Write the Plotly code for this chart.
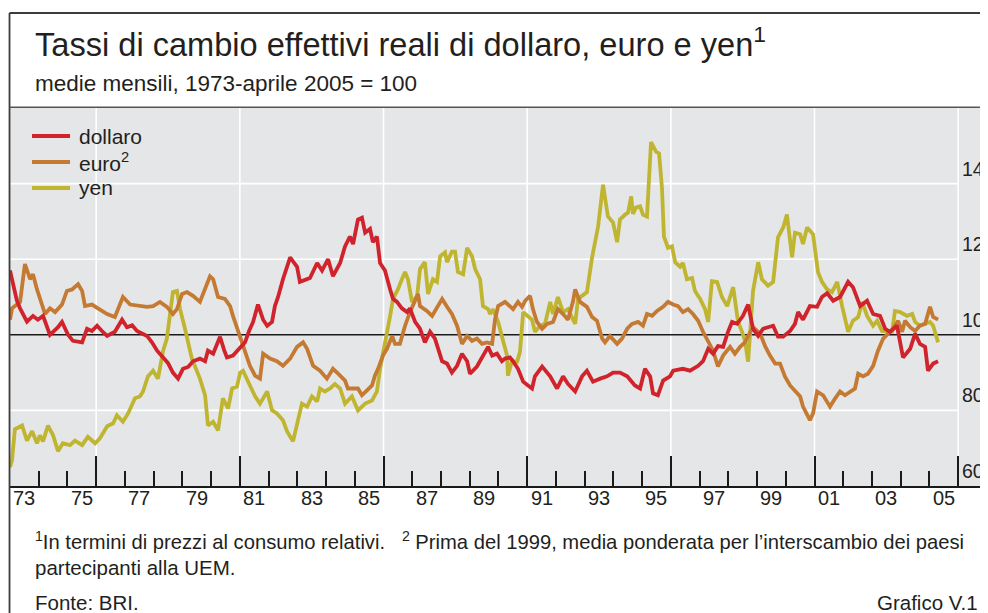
import plotly.graph_objects as go

# ---------------- data (monthly readings, index 1973-Apr 2005 = 100) ----------------
dollar_t = [1973.00,1973.14,1973.24,1973.35,1973.59,1973.80,1973.97,1974.15,1974.39,1974.67,
            1974.81,1975.02,1975.19,1975.51,1975.68,1975.85,1976.03,1976.20,1976.38,1976.65,
            1976.90,1977.07,1977.25,1977.42,1977.59,1977.77,1977.94,1978.12,1978.33,1978.50,
            1978.67,1978.85,1979.02,1979.20,1979.37,1979.61,1979.79,1979.89,1980.07,1980.31,
            1980.45,1980.55,1980.76,1981.01,1981.18,1981.32,1981.46,1981.63,1981.81,1981.95,
            1982.12,1982.22,1982.33,1982.50,1982.75,1982.89,1982.99,1983.09,1983.27,1983.44,
            1983.69,1983.86,1984.07,1984.24,1984.49,1984.66,1984.83,1984.94,1985.11,1985.25,
            1985.36,1985.53,1985.63,1985.77,1985.88,1986.05,1986.23,1986.33,1986.47,1986.64,
            1986.82,1986.92,1987.10,1987.27,1987.44,1987.62,1987.79,1988.04,1988.21,1988.38,
            1988.56,1988.73,1988.91,1989.01,1989.25,1989.43,1989.53,1989.64,1989.78,1989.95,
            1990.12,1990.23,1990.40,1990.51,1990.68,1990.86,1991.03,1991.17,1991.27,1991.52,
            1991.80,1992.04,1992.25,1992.42,1992.67,1992.91,1993.08,1993.29,1993.54,1993.78,
            1993.99,1994.23,1994.48,1994.75,1994.93,1995.10,1995.28,1995.38,1995.55,1995.73,
            1995.97,1996.08,1996.42,1996.67,1996.95,1997.12,1997.30,1997.47,1997.64,1997.82,
            1997.99,1998.13,1998.31,1998.51,1998.69,1998.86,1999.04,1999.21,1999.38,1999.56,
            1999.73,1999.91,2000.15,2000.32,2000.43,2000.60,2000.84,2001.09,2001.26,2001.44,
            2001.65,2001.89,2002.17,2002.34,2002.59,2002.83,2003.04,2003.28,2003.46,2003.63,
            2003.87,2004.08,2004.33,2004.50,2004.67,2004.85,2004.95,2005.13,2005.30]
dollar_v = [117,112,109,107,103.5,105,104,105,100,102,
            103.4,100,98.4,98,101.6,101,102.4,101,99.7,100.8,
            104,102,102.5,101,100.5,99.7,98,95.8,94,92.5,
            90,88.4,91,91.5,93,93.7,93,95.8,95,99.5,
            96,94,94.5,96.8,98,101,103.4,108,104,102.4,
            103.4,107.6,110,114.7,120.5,119,118,114,114.5,115,
            119,117,120,115.5,119,123.4,126,124,130.5,131,
            127,128,124.5,126,119,117,112,109.5,108.7,107,
            106,107,103.4,101.6,98,100.8,99,93,92.4,90,
            91.8,95,93,89.7,91.6,94,95.5,96.8,94.5,95,
            93,93.7,94,93,91,87.6,86.6,85.8,89,91.6,
            89,85.8,89,87,85,89,90.5,87.6,88.4,89,
            90,90,89,86.6,85.8,91,89,84.5,84,87.9,
            89,90.5,91,90.5,91.8,93,96.3,95,97,96.8,
            100.8,103.4,102.9,105,108,101.6,99.7,101.6,102,102.4,
            99.5,99.5,101,102.9,106,104,107.6,107.4,110,111,
            109,110,114,112.6,107.6,109,105.5,105,101.6,100.8,
            102.4,94,96.3,100.3,97.6,96.8,90.5,92.4,93]

euro_t = [1973.00,1973.07,1973.35,1973.52,1973.70,1973.80,1973.94,1974.11,1974.22,1974.39,
          1974.57,1974.81,1974.98,1975.16,1975.37,1975.51,1975.61,1975.85,1976.13,1976.38,
          1976.65,1976.83,1976.93,1977.18,1977.52,1977.77,1977.98,1978.22,1978.46,1978.67,
          1978.81,1978.99,1979.16,1979.37,1979.61,1979.79,1979.96,1980.07,1980.24,1980.48,
          1980.66,1980.76,1981.01,1981.18,1981.35,1981.53,1981.70,1981.81,1982.05,1982.29,
          1982.50,1982.75,1982.99,1983.20,1983.34,1983.55,1983.79,1984.03,1984.24,1984.42,
          1984.66,1984.76,1984.94,1985.11,1985.25,1985.43,1985.60,1985.70,1985.81,1985.98,
          1986.12,1986.30,1986.40,1986.57,1986.75,1986.92,1987.10,1987.20,1987.27,1987.51,
          1987.69,1987.86,1988.04,1988.21,1988.38,1988.56,1988.73,1988.91,1989.08,1989.25,
          1989.43,1989.60,1989.78,1989.88,1989.99,1990.23,1990.40,1990.51,1990.68,1990.82,
          1990.93,1991.10,1991.20,1991.34,1991.52,1991.69,1991.90,1992.07,1992.25,1992.42,
          1992.60,1992.67,1992.84,1993.08,1993.26,1993.43,1993.61,1993.71,1993.88,1994.13,
          1994.30,1994.48,1994.65,1994.86,1995.03,1995.17,1995.35,1995.52,1995.73,1995.90,
          1996.08,1996.25,1996.42,1996.60,1996.77,1996.95,1997.12,1997.30,1997.47,1997.64,
          1997.82,1998.06,1998.23,1998.41,1998.58,1998.69,1998.86,1999.11,1999.28,1999.45,
          1999.63,1999.80,1999.97,2000.15,2000.32,2000.50,2000.60,2000.74,2000.84,2000.95,
          2001.09,2001.30,2001.54,2001.72,2001.89,2002.06,2002.24,2002.41,2002.52,2002.69,
          2002.86,2003.04,2003.21,2003.39,2003.56,2003.73,2003.91,2004.05,2004.15,2004.33,
          2004.50,2004.67,2004.85,2005.02,2005.13,2005.30]
euro_v = [104,107,108.7,118.7,114.7,116,112,107.6,105.5,107,
          106,108,111.6,112,113.4,111.6,107.6,108,106.8,105.5,
          104.7,108,110,108,107.6,107.4,107.6,108.7,107.4,105.5,
          106.8,110.8,111.3,110.3,108.7,112,115.5,114.7,110,109.5,
          107.6,105,99.7,95.8,91.8,89.2,88.4,95,93.7,93,
          91.8,93.7,96.8,98,96.3,91.8,90.5,88.4,91,89.7,
          87.9,85.8,85.8,85.8,84,85.3,86.6,89.2,91,94.5,
          96.3,99.7,97.6,97.6,102.4,106,109.5,110.8,107.6,106.3,
          105,107.4,109.5,107.4,105.5,102.4,97.6,99.7,98.4,99,
          97.6,98,97.6,104,107.6,108.7,107.6,106.8,108.7,107.4,
          109,110.3,106.8,103.4,101.6,102.9,103.4,106.8,105.5,104,
          109,112,108.7,107.4,104.7,103.7,99,98,99.7,97.6,
          99,101.6,102.9,103.4,102.4,105.5,105,106.3,107.4,108.7,
          108,107.6,106,106.8,105.5,103.7,100.8,98,95.8,91.6,
          94.5,96.8,95,96.8,98,99.7,102,100.3,97,94.5,
          92.4,92.4,89,86.6,85,83.7,81,78.7,77.4,79.2,
          85,84,81,83.2,85,84,85,85.8,89.7,89,
          89.7,91.8,95.8,99,100.3,101.6,103.7,100.8,103.7,102,
          101,102.4,102.9,107.4,104.7,104]

yen_t = [1973.00,1973.07,1973.17,1973.42,1973.59,1973.77,1973.94,1974.04,1974.15,1974.32,
         1974.50,1974.67,1974.84,1975.09,1975.26,1975.51,1975.71,1975.96,1976.13,1976.38,
         1976.59,1976.72,1976.93,1977.11,1977.35,1977.52,1977.63,1977.80,1977.98,1978.15,
         1978.33,1978.46,1978.57,1978.67,1978.81,1978.92,1979.09,1979.33,1979.61,1979.79,
         1979.89,1980.07,1980.24,1980.41,1980.59,1980.73,1980.90,1981.01,1981.11,1981.28,
         1981.53,1981.70,1981.95,1982.12,1982.29,1982.50,1982.64,1982.85,1982.99,1983.16,
         1983.34,1983.51,1983.69,1983.79,1983.96,1984.14,1984.31,1984.49,1984.66,1984.90,
         1985.11,1985.36,1985.60,1985.77,1985.88,1985.98,1986.12,1986.23,1986.33,1986.50,
         1986.64,1986.75,1986.85,1986.99,1987.17,1987.27,1987.44,1987.55,1987.72,1987.86,
         1987.97,1988.14,1988.21,1988.38,1988.49,1988.59,1988.77,1988.91,1989.08,1989.19,
         1989.36,1989.46,1989.64,1989.71,1989.81,1989.99,1990.16,1990.30,1990.33,1990.47,
         1990.65,1990.75,1990.86,1991.00,1991.17,1991.27,1991.45,1991.62,1991.80,1991.90,
         1992.07,1992.25,1992.42,1992.67,1992.77,1993.08,1993.26,1993.47,1993.64,1993.81,
         1993.99,1994.13,1994.23,1994.41,1994.51,1994.62,1994.68,1994.79,1994.93,1995.03,
         1995.17,1995.31,1995.49,1995.59,1995.69,1995.76,1995.90,1996.04,1996.15,1996.32,
         1996.42,1996.56,1996.74,1996.84,1997.02,1997.19,1997.30,1997.43,1997.61,1997.78,
         1997.96,1998.17,1998.34,1998.48,1998.58,1998.69,1998.79,1998.86,1999.04,1999.17,
         1999.38,1999.56,1999.73,1999.91,2000.04,2000.22,2000.32,2000.50,2000.60,2000.74,
         2000.95,2001.12,2001.26,2001.44,2001.61,2001.79,2001.96,2002.17,2002.34,2002.52,
         2002.66,2002.83,2003.04,2003.18,2003.35,2003.53,2003.70,2003.80,2003.98,2004.22,
         2004.40,2004.50,2004.67,2004.85,2005.02,2005.13,2005.30]
yen_v = [65,66.8,75,76,72,74.5,71.3,73.4,71.8,76,
         73.4,69.2,71.3,70.8,72,70.8,73,71.3,72.6,75.8,
         76.6,78.7,77,79.2,83.2,83.7,85,89,90.5,88.4,
         95.8,99,105.5,111.3,111.6,106.8,101.6,93.7,88.4,84,
         76,77,74.7,83.2,80.5,85.8,86.3,90,90.5,87.6,
         83.7,81.8,85,80,79.2,77.4,74.5,71.8,76,81.8,
         81,83.7,82.4,85.8,85,85.8,87,85.8,81.8,83.7,
         80,81.8,82.6,85,91,95,99.7,105,109.5,112,
         114.7,116.6,114.7,108.7,110.3,117.4,119.2,110.8,114.7,114,
         120.8,121.8,119.2,122,122,116.6,116,123,120.8,117.4,
         114.7,107.6,106.8,105.5,106.8,103.4,98.4,94.5,89.2,93,
         92.9,95.5,106,105,104,100.8,102.4,102.9,108.7,105.5,
         110,106,106.8,102.9,109.5,111.3,120.5,128.7,139.7,131.3,
         129.7,124.5,130.5,131.8,132.3,136.6,132,133.7,134,131.8,
         131.3,151,148.4,148,139,126,123,123.4,119.2,118,
         119,114.7,115,111.6,109.5,106.8,103.4,114.2,114,110,
         107.6,112.6,103.4,100.8,98.4,92.9,103.4,111.6,119.2,114.7,
         113,114,125.8,128.4,131.8,120.5,127,126.6,124,128.4,
         126.6,116.6,114,112,111.3,114,107.6,100.8,103.7,104.7,
         108.7,105,102.4,103.7,101,101,100.8,106.3,106,105,
         105.5,103.4,102.4,102.9,103.4,102.4,98]

# ---------------- axis / label definitions ----------------
label_years = list(range(1973, 2006, 2))
label_text = [f"{y % 100:02d}" for y in label_years]
major_years = list(range(1976, 2007, 5))
minor_years = list(range(1974, 2006))
y_labels = [60, 80, 100, 120, 140]
white_grid = [80, 120, 140]
ref_level = 100

TXT = "#231f20"
FONT = "Liberation Sans, Arial, sans-serif"
AX = "#1a1a1a"

series = [
    ("dollaro", dollar_t, dollar_v, "#d0232b"),
    ("euro<sup>2</sup>", euro_t, euro_v, "#c47a32"),
    ("yen", yen_t, yen_v, "#bfb531"),
]

fig = go.Figure()
for name, t, v, col in reversed(series):
    fig.add_trace(go.Scatter(x=t, y=v, mode="lines", name=name, showlegend=False,
                             line=dict(color=col, width=3.8), hoverinfo="skip"))

shapes = []
for yr in major_years:
    shapes.append(dict(type="line", xref="x", yref="paper", x0=yr, x1=yr, y0=0, y1=1,
                       line=dict(color="white", width=1.6), layer="below"))
for g in white_grid:
    shapes.append(dict(type="line", xref="x", yref="y", x0=1973, x1=2006, y0=g, y1=g,
                       line=dict(color="white", width=1.6), layer="below"))
shapes.append(dict(type="line", xref="paper", yref="y", x0=0, x1=1, y0=ref_level, y1=ref_level,
                   line=dict(color=AX, width=1.4), layer="below"))
# frame
FR = "#3c3c3c"
shapes.append(dict(type="line", xref="paper", yref="paper", x0=-0.0005, x1=1.0, y0=1.2513, y1=1.2513,
                   line=dict(color=FR, width=1.8)))
shapes.append(dict(type="line", xref="paper", yref="paper", x0=-0.0005, x1=-0.0005, y0=1.2513, y1=-0.34,
                   line=dict(color=FR, width=1.8)))
shapes.append(dict(type="line", xref="paper", yref="paper", x0=-0.0005, x1=1.0, y0=1.0018, y1=1.0018,
                   line=dict(color="#555555", width=1.4)))

ann = []
# legend drawn in the top-left corner of the plot
leg_rows = [0.9259, 0.8571, 0.7884]
for (name, t, v, col), ly in zip(series, leg_rows):
    shapes.append(dict(type="line", xref="paper", yref="paper", x0=0.0227, x1=0.0619, y0=ly, y1=ly,
                       line=dict(color=col, width=4.2)))
    ann.append(dict(text=name, xref="paper", yref="paper", x=0.0691, y=ly, xanchor="left",
                    yanchor="middle", showarrow=False, font=dict(size=21, color=TXT, family=FONT)))

ann.append(dict(text="Tassi di cambio effettivi reali di dollaro, euro e yen<sup>1</sup>",
                xref="paper", yref="paper", x=0.0237, y=1.175, xanchor="left", yanchor="middle",
                showarrow=False, font=dict(size=32.6, color=TXT, family=FONT)))
ann.append(dict(text="medie mensili, 1973-aprile 2005 = 100",
                xref="paper", yref="paper", x=0.0237, y=1.0635, xanchor="left", yanchor="middle",
                showarrow=False, font=dict(size=22.5, color=TXT, family=FONT)))
for yr, lab in zip(label_years, label_text):
    ann.append(dict(text=lab, xref="x", yref="paper", x=yr + 0.5, y=-0.0317,
                    xanchor="center", yanchor="middle", showarrow=False,
                    font=dict(size=20, color=TXT, family=FONT)))
for v in y_labels:
    ann.append(dict(text=str(v), xref="x", yref="y", x=2006.07, y=v, xanchor="left",
                    yanchor="middle", yshift=15, showarrow=False,
                    font=dict(size=19.5, color=TXT, family=FONT)))
NB = "\u00a0"
FOOT = 20.5
ann.append(dict(text="<sup>1</sup>In termini di prezzi al consumo relativi." + NB * 3 +
                     "<sup>2</sup> Prima del 1999, media ponderata per l\u2019interscambio dei paesi",
                xref="paper", yref="paper", x=0.0237, y=-0.1429, xanchor="left", yanchor="middle",
                showarrow=False, font=dict(size=20.2, color=TXT, family=FONT)))
ann.append(dict(text="partecipanti alla UEM.", xref="paper", yref="paper", x=0.0237, y=-0.2143,
                xanchor="left", yanchor="middle", showarrow=False,
                font=dict(size=FOOT, color=TXT, family=FONT)))
ann.append(dict(text="Fonte: BRI.", xref="paper", yref="paper", x=0.0237, y=-0.3095,
                xanchor="left", yanchor="middle", showarrow=False,
                font=dict(size=FOOT, color=TXT, family=FONT)))
ann.append(dict(text="Grafico V.1", xref="paper", yref="paper", x=1.0, y=-0.3095,
                xanchor="right", yanchor="middle", showarrow=False,
                font=dict(size=FOOT, color=TXT, family=FONT)))

# the page adds an 8px body margin and shows 972px of width, so the figure is 972x605 at (8, 8)
fig.update_layout(
    width=972, height=605,
    margin=dict(l=2, r=0, t=100, b=127, pad=0),
    paper_bgcolor="white", plot_bgcolor="#e5e6e8",
    font=dict(family=FONT, color=TXT),
    showlegend=False,
    xaxis=dict(range=[1973, 2006.76], tickmode="array", tickvals=major_years,
               showticklabels=False, ticks="inside", ticklen=30, tickwidth=1.6, tickcolor=AX,
               showgrid=False, showline=True, linecolor=AX, linewidth=1.6, zeroline=False,
               minor=dict(tickmode="array", tickvals=minor_years, ticks="inside", ticklen=15,
                          tickwidth=1.6, tickcolor=AX, showgrid=False),
               fixedrange=True),
    yaxis=dict(range=[60, 160], showgrid=False, showticklabels=False, zeroline=False,
               ticks="", fixedrange=True),
    shapes=shapes,
    annotations=ann,
)

fig.write_html("out.html")
